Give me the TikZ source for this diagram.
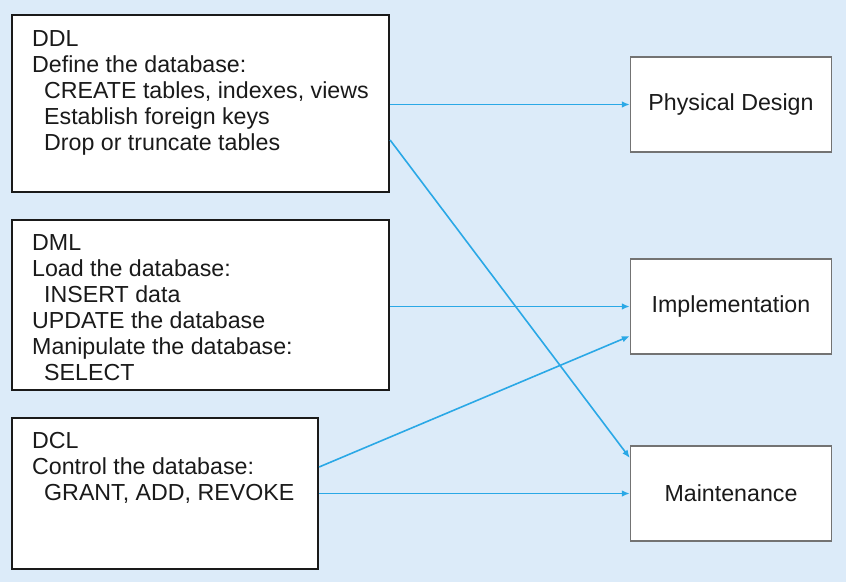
\documentclass[tikz,border=0pt]{standalone}
\usepackage{fontspec}
\setmainfont{Liberation Sans}
\usetikzlibrary{arrows.meta,calc}
\definecolor{bgc}{HTML}{DCEBF9}
\definecolor{arrc}{HTML}{2AA8E6}
\definecolor{txtc}{HTML}{1A1A1A}
\begin{document}
\begin{tikzpicture}[x=1pt,y=-1pt,
  lbox/.style={draw=txtc, line width=2.2pt, fill=white, inner sep=0pt},
  rbox/.style={draw=black!55, line width=1.3pt, fill=white, inner sep=0pt, minimum width=201pt, minimum height=95pt, font=\fontsize{23.2}{26}\selectfont, text=txtc},
  lbl/.style={anchor=base west, inner sep=0pt, font=\fontsize{23.2}{26}\selectfont, text=txtc},
  conn/.style={draw=arrc, line width=1.6pt, -{Latex[length=8pt,width=6.5pt]}}]
\fill[bgc] (0,0) rectangle (846,582);
\useasboundingbox (0,0) rectangle (846,582);
% left boxes
\node[lbox, minimum width=377pt, minimum height=177pt] (ddl) at (200.5,103.5) {};
\node[lbox, minimum width=377pt, minimum height=170pt] (dml) at (200.5,305) {};
\node[lbox, minimum width=306pt, minimum height=151pt] (dcl) at (165,493.5) {};
% right boxes
\node[rbox] (phys) at (731,104.5) {Physical Design};
\node[rbox] (impl) at (731,306.5) {Implementation};
\node[rbox] (maint) at (731,493.5) {Maintenance};
% DDL text
\node[lbl] (t1) at (32,46) {DDL};
\node[lbl] (t2) at (32,72) {Define the database:};
\node[lbl] (t3) at (44,98) {CREATE tables, indexes, views};
\node[lbl] (t4) at (44,124) {Establish foreign keys};
\node[lbl] (t5) at (44,150) {Drop or truncate tables};
% DML text
\node[lbl] (t6) at (32,250) {DML};
\node[lbl] (t7) at (32,276) {Load the database:};
\node[lbl] (t8) at (44,302) {INSERT data};
\node[lbl] (t9) at (32,328) {UPDATE the database};
\node[lbl] (t10) at (32,354) {Manipulate the database:};
\node[lbl] (t11) at (44,380) {SELECT};
% DCL text
\node[lbl] (t12) at (32,448) {DCL};
\node[lbl] (t13) at (32,474) {Control the database:};
\node[lbl] (t14) at (44,500) {GRANT, ADD, REVOKE};
% connector endpoints
\coordinate (ddlout) at (ddl.east |- 0,140);
\coordinate (maintin) at (maint.west |- 0,458);
\coordinate (dclout) at (dcl.east |- 0,467);
\coordinate (implin) at (impl.west |- 0,336);
% connectors
\draw[conn] (ddl.east |- phys.west) -- (phys.west);
\draw[conn] (ddlout) -- (maintin);
\draw[conn] (dml.east |- impl.west) -- (impl.west);
\draw[conn] (dclout) -- (implin);
\draw[conn] (dcl.east |- maint.west) -- (maint.west);
\end{tikzpicture}
\end{document}
